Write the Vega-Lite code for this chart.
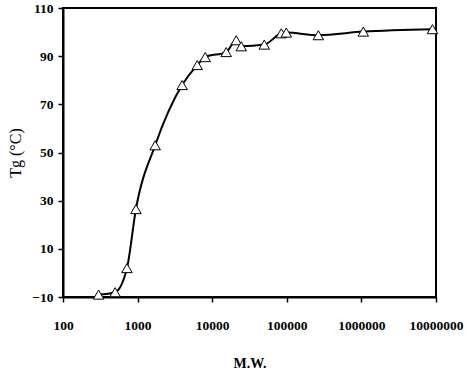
{
  "$schema": "https://vega.github.io/schema/vega-lite/v6.json",
  "autosize": "none",
  "width": 373,
  "height": 289,
  "padding": {"left": 63, "top": 8, "right": 30, "bottom": 83},
  "background": "white",
  "config": {
    "view": {"stroke": "black", "strokeWidth": 2},
    "axis": {
      "labelFont": "Liberation Serif",
      "labelFontWeight": "bold",
      "labelFontSize": 13.5,
      "labelColor": "black",
      "titleFont": "Liberation Serif",
      "titleFontWeight": "bold",
      "titleFontSize": 14,
      "titleColor": "black",
      "domainColor": "black",
      "domainWidth": 2,
      "tickColor": "black",
      "tickWidth": 1.5,
      "tickSize": 5,
      "grid": false
    }
  },
  "data": {
    "values": [
      {"mw": 300, "tg": -9},
      {"mw": 500, "tg": -8},
      {"mw": 720, "tg": 2},
      {"mw": 950, "tg": 26.5},
      {"mw": 1720, "tg": 53},
      {"mw": 3950, "tg": 78},
      {"mw": 6300, "tg": 86.3},
      {"mw": 8050, "tg": 89.6},
      {"mw": 15400, "tg": 91.7},
      {"mw": 21000, "tg": 96.6},
      {"mw": 24500, "tg": 94.1},
      {"mw": 49900, "tg": 94.8},
      {"mw": 84300, "tg": 99.5},
      {"mw": 98500, "tg": 99.8},
      {"mw": 265000, "tg": 98.7},
      {"mw": 1060000, "tg": 100.2},
      {"mw": 8970000, "tg": 101.2}
    ]
  },
  "encoding": {
    "x": {
      "field": "mw",
      "type": "quantitative",
      "scale": {"type": "log", "domain": [100, 10000000], "nice": false},
      "axis": {
        "title": "M.W.",
        "values": [100, 1000, 10000, 100000, 1000000, 10000000],
        "format": "d",
        "labelPadding": 16,
        "titlePadding": 25,
        "labelFlush": false
      }
    },
    "y": {
      "field": "tg",
      "type": "quantitative",
      "scale": {"domain": [-10, 110], "nice": false, "zero": false},
      "axis": {
        "title": "Tg (°C)",
        "titleFontWeight": "normal",
        "titleFontSize": 16,
        "values": [-10, 10, 30, 50, 70, 90, 110],
        "labelPadding": 5,
        "titlePadding": 8
      }
    }
  },
  "layer": [
    {
      "mark": {"type": "line", "color": "black", "strokeWidth": 2, "interpolate": "monotone"}
    },
    {
      "mark": {"type": "point", "shape": "triangle-up", "size": 110, "filled": true, "fill": "white", "stroke": "black", "strokeWidth": 1, "opacity": 1}
    }
  ]
}
